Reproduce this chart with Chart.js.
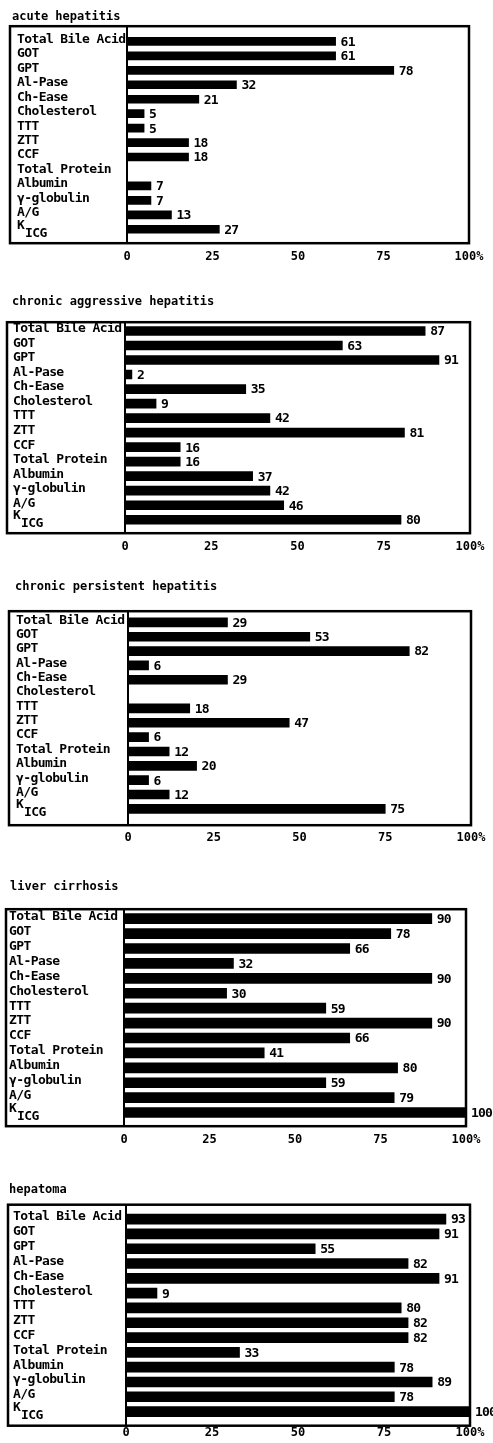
<!DOCTYPE html>
<html>
<head>
<meta charset="utf-8">
<script src="https://cdn.jsdelivr.net/npm/chart.js@4/dist/chart.umd.min.js"></script>
<style>
  html, body { margin: 0; padding: 0; background: #fff; }
  body { position: relative; width: 493px; height: 1443px; overflow: hidden; }
  canvas { position: absolute; left: 0; }
</style>
</head>
<body>
<script>
// categories (last one gets a subscript: K_ICG)
const categories = ['Total Bile Acid', 'GOT', 'GPT', 'Al-Pase', 'Ch-Ease', 'Cholesterol',
  'TTT', 'ZTT', 'CCF', 'Total Protein', 'Albumin', 'γ-globulin', 'A/G', 'K_ICG'];

const panelTitles = ['acute hepatitis', 'chronic aggressive hepatitis',
  'chronic persistent hepatitis', 'liver cirrhosis', 'hepatoma'];

// percent positive per test
const acuteHepatitis = [61, 61, 78, 32, 21, 5, 5, 18, 18, 0, 7, 7, 13, 27];
const chronicAggressive = [87, 63, 91, 2, 35, 9, 42, 81, 16, 16, 37, 42, 46, 80];
const chronicPersistent = [29, 53, 82, 6, 29, 0, 18, 47, 6, 12, 20, 6, 12, 75];
const liverCirrhosis = [90, 78, 66, 32, 90, 30, 59, 90, 66, 41, 80, 59, 79, 100];
const hepatoma = [93, 91, 55, 82, 91, 9, 80, 82, 82, 33, 78, 89, 78, 100];

const xTicks = [0, 25, 50, 75, 100];

// page layout of each panel (px, absolute)
const layouts = [
  { titleX: 12, titleY: 17, labelX: 17, boxLeft: 10, zero: 127, right: 469, boxTop: 26, yTop: 34, yBottom: 236.5, boxBottom: 243, tickY: 257, bar: 8 },
  { titleX: 12, titleY: 302, labelX: 13, boxLeft: 7, zero: 125, right: 470, boxTop: 322, yTop: 323.5, yBottom: 527, boxBottom: 533, tickY: 547, bar: 9 },
  { titleX: 15, titleY: 587, labelX: 16, boxLeft: 9, zero: 128, right: 471, boxTop: 611, yTop: 615, yBottom: 816, boxBottom: 825, tickY: 838, bar: 9 },
  { titleX: 10, titleY: 887, labelX: 9, boxLeft: 6, zero: 124, right: 466, boxTop: 909, yTop: 911, yBottom: 1120, boxBottom: 1126, tickY: 1140, bar: 10 },
  { titleX: 9, titleY: 1190.5, labelX: 13, boxLeft: 8, zero: 126, right: 470, boxTop: 1205, yTop: 1212, yBottom: 1419, boxBottom: 1426, tickY: 1433, bar: 10 }
];

const series = [acuteHepatitis, chronicAggressive, chronicPersistent, liverCirrhosis, hepatoma];

const FONT = "'DejaVu Sans Mono', 'Liberation Mono', monospace";

// frame, y labels and value labels
const panelDeco = {
  id: 'panelDeco',
  afterDraw(chart, args, opts) {
    const { ctx } = chart;
    const L = opts.layout;
    const off = opts.offsetTop;
    const yScale = chart.scales.y;
    const xLeft = chart.chartArea.left;

    ctx.save();
    ctx.strokeStyle = '#000';
    // outer box
    ctx.lineWidth = 2.5;
    ctx.strokeRect(L.boxLeft, L.boxTop - off, chart.chartArea.right - L.boxLeft, L.boxBottom - L.boxTop);
    // divider at the zero line
    ctx.lineWidth = 2;
    ctx.beginPath();
    ctx.moveTo(xLeft, L.boxTop - off);
    ctx.lineTo(xLeft, L.boxBottom - off);
    ctx.stroke();

    // category labels: slightly condensed typewriter look
    ctx.fillStyle = '#000';
    ctx.textBaseline = 'middle';
    ctx.textAlign = 'left';
    ctx.font = 'bold 13px ' + FONT;
    ctx.letterSpacing = '-0.6px';
    categories.forEach((c, i) => {
      const y = yScale.getPixelForValue(i) - 2;
      if (c === 'K_ICG') {
        ctx.fillText('K', L.labelX, y - 2);
        ctx.fillText('ICG', L.labelX + 8, y + 6);
      } else {
        ctx.fillText(c, L.labelX, y);
      }
    });

    // value labels
    ctx.font = 'bold 13px ' + FONT;
    ctx.letterSpacing = '-0.8px';
    const meta = chart.getDatasetMeta(0);
    meta.data.forEach((bar, i) => {
      const v = chart.data.datasets[0].data[i];
      if (!v) return;
      ctx.fillText(String(v), bar.x + 5, bar.y + 1);
    });
    ctx.restore();
  }
};

layouts.forEach((L, p) => {
  const top = L.titleY - 7.2;
  const height = Math.min(L.tickY + 10, 1443) - top;
  const titlePadB = (L.yTop - top) - 14.4;

  const canvas = document.createElement('canvas');
  canvas.width = 493;
  canvas.height = Math.round(height);
  canvas.style.top = top + 'px';
  document.body.appendChild(canvas);

  new Chart(canvas, {
    type: 'bar',
    data: {
      labels: categories,
      datasets: [{
        data: series[p],
        backgroundColor: '#000',
        borderWidth: 0,
        barThickness: L.bar
      }]
    },
    options: {
      indexAxis: 'y',
      responsive: false,
      animation: false,
      events: [],
      layout: { padding: { left: L.titleX, right: 493 - L.right, top: 0, bottom: 0 } },
      plugins: {
        legend: { display: false },
        tooltip: { enabled: false },
        title: {
          display: true,
          text: panelTitles[p],
          align: 'start',
          color: '#000',
          font: { family: FONT, size: 12, weight: 'bold', lineHeight: 1.2 },
          padding: { top: 0, bottom: titlePadB }
        },
        panelDeco: { layout: L, offsetTop: top }
      },
      scales: {
        y: {
          type: 'category',
          grid: { display: false, drawTicks: false },
          border: { display: false },
          ticks: { display: false },
          afterFit(s) { s.width = L.zero - L.titleX; }
        },
        x: {
          type: 'linear',
          min: 0,
          max: 100,
          grid: { display: false, drawTicks: false },
          border: { display: false },
          afterBuildTicks(s) { s.ticks = xTicks.map(v => ({ value: v })); },
          ticks: {
            color: '#000',
            padding: L.tickY - L.yBottom - 7.2,
            maxRotation: 0,
            autoSkip: false,
            font: { family: FONT, size: 12, weight: 'bold' },
            callback: v => (v === 100 ? '100%' : String(v))
          },
          afterFit(s) {
            s.height = (top + height) - L.yBottom;
            s.paddingLeft = 0;
            s.paddingRight = 0;
          }
        }
      }
    },
    plugins: [panelDeco]
  });
});
</script>
</body>
</html>
